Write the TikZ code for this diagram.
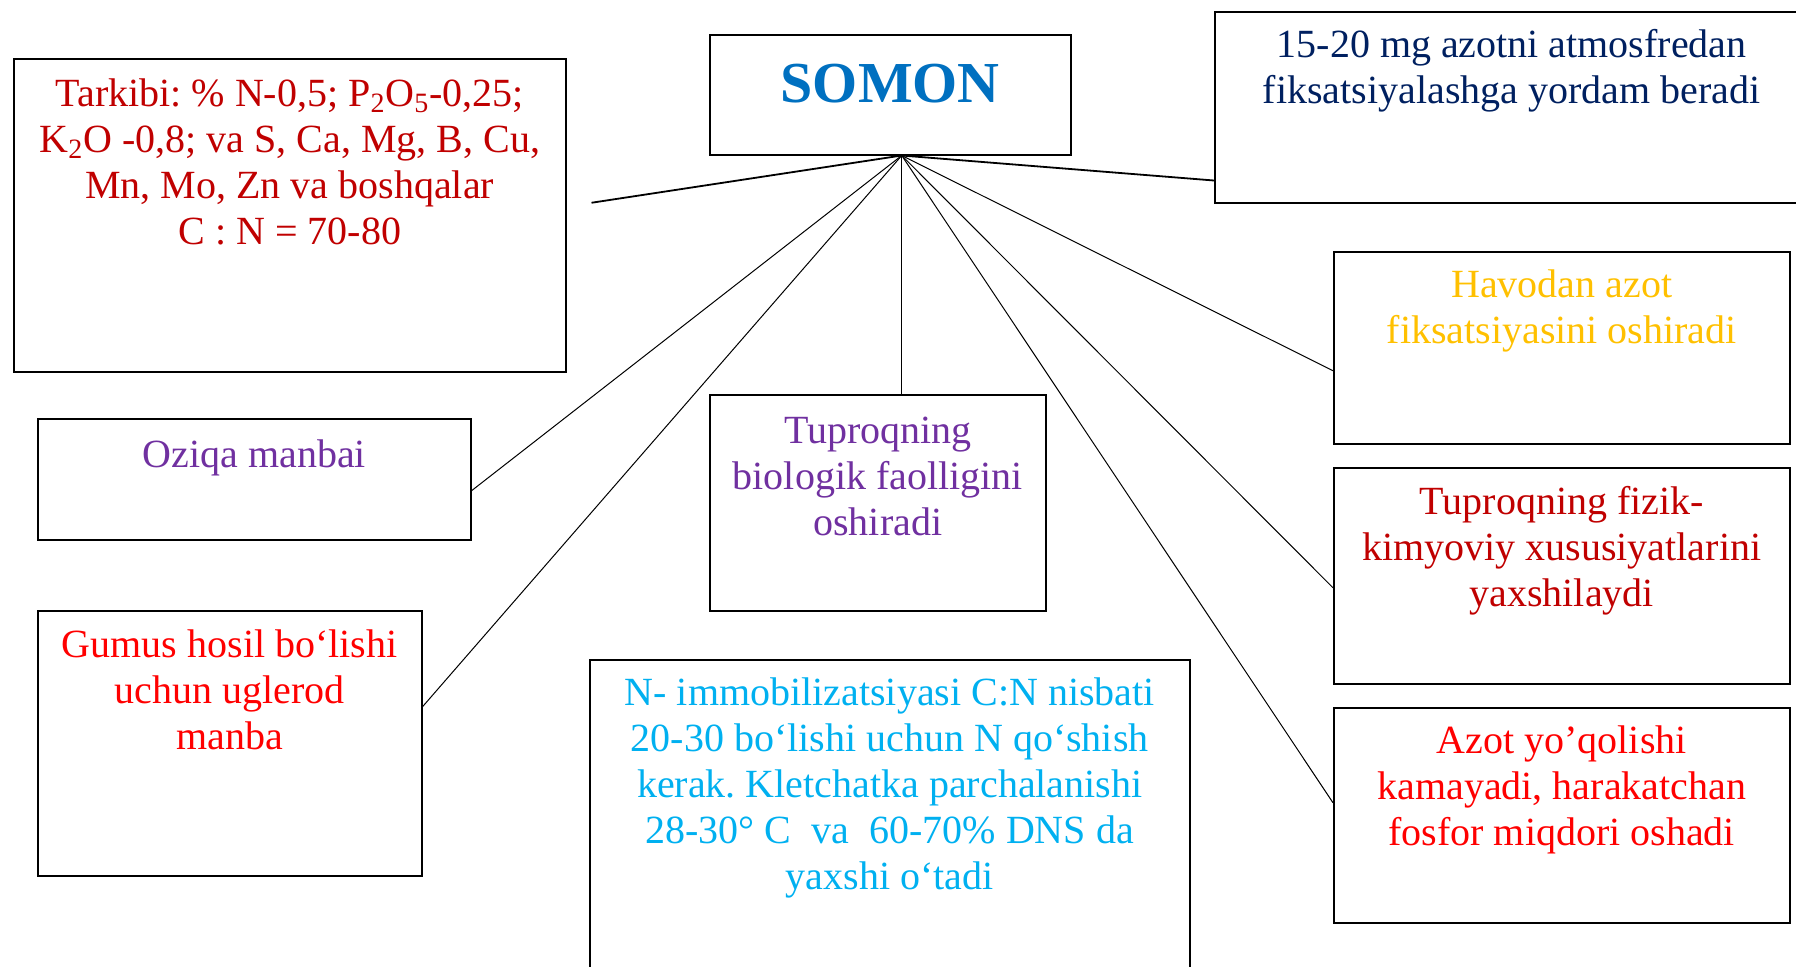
\documentclass[tikz,border=0pt]{standalone}
\usepackage{fontspec}
\setmainfont{Liberation Serif}
\usepackage{xcolor}
\usetikzlibrary{positioning}
\frenchspacing

\definecolor{somonblue}{RGB}{0,112,192}
\definecolor{darkred}{RGB}{192,0,0}
\definecolor{navy}{RGB}{0,32,96}
\definecolor{gold}{RGB}{255,192,0}
\definecolor{purple}{RGB}{112,48,160}
\definecolor{skyblue}{RGB}{0,176,240}

\newcommand{\txtlines}[1]{\begin{tabular}[t]{@{}c@{}}#1\end{tabular}}

\begin{document}
\begin{tikzpicture}[x=0.5pt,y=-0.5pt,
  box/.style={draw, line width=0.75pt, anchor=north west, inner sep=0pt},
  txt/.style={anchor=base, inner sep=0pt, font=\fontsize{20}{23}\selectfont},
  link/.style={line width=0.5pt}]

\clip (0,0) rectangle (1796,966);

\node [box, minimum width=180.5pt, minimum height=60pt] (somon) at (709,34) {};
\node [box, minimum width=276pt, minimum height=156.5pt] (tarkib) at (13,58) {};
\node [box, minimum width=297pt, minimum height=95.5pt] (fiks) at (1214,11) {};
\node [box, minimum width=216.5pt, minimum height=60.5pt] (oziqa) at (37,418) {};
\node [box, minimum width=168pt, minimum height=108pt] (biolog) at (709,394) {};
\node [box, minimum width=192pt, minimum height=132.5pt] (gumus) at (37,610) {};
\node [box, minimum width=300pt, minimum height=180pt] (immob) at (589,659) {};
\node [box, minimum width=228pt, minimum height=96pt] (havo) at (1333,251) {};
\node [box, minimum width=228pt, minimum height=108pt] (fizik) at (1333,467) {};
\node [box, minimum width=228pt, minimum height=107.5pt] (azot) at (1333,707) {};

\node [txt, text=somonblue, font=\bfseries\fontsize{29}{33}\selectfont] (somontxt) at ([yshift=-34pt]somon.north) {SOMON};
\node [txt, text=darkred] (tarkibtxt) at ([yshift=-24pt]tarkib.north) {\txtlines{Tarkibi: \% N-0,5; P\textsubscript{2}O\textsubscript{5}-0,25;\\K\textsubscript{2}O -0,8; va S, Ca, Mg, B, Cu,\\Mn, Mo, Zn va boshqalar\\C : N = 70-80}};
\node [txt, text=navy] (fikstxt) at ([yshift=-23pt]fiks.north) {\txtlines{15-20 mg azotni atmosfredan\\fiksatsiyalashga yordam beradi}};
\node [txt, text=purple] (oziqatxt) at ([yshift=-24.5pt]oziqa.north) {Oziqa manbai};
\node [txt, text=purple] (biologtxt) at ([yshift=-24.5pt]biolog.north) {\txtlines{Tuproqning\\biologik faolligini\\oshiradi}};
\node [txt, text=red] (gumustxt) at ([yshift=-23.5pt]gumus.north) {\txtlines{Gumus hosil bo‘lishi\\uchun uglerod\\manba}};
\node [txt, text=skyblue] (immobtxt) at ([yshift=-23pt]immob.north) {\txtlines{N- immobilizatsiyasi C:N nisbati\\20-30 bo‘lishi uchun N qo‘shish\\kerak. Kletchatka parchalanishi\\28-30° C~ va~ 60-70\% DNS da\\yaxshi o‘tadi}};
\node [txt, text=gold] (havotxt) at ([yshift=-23pt]havo.north) {\txtlines{Havodan azot\\fiksatsiyasini oshiradi}};
\node [txt, text=darkred] (fiziktxt) at ([yshift=-23.5pt]fizik.north) {\txtlines{Tuproqning fizik-\\kimyoviy xususiyatlarini\\yaxshilaydi}};
\node [txt, text=red] (azottxt) at ([yshift=-23pt]azot.north) {\txtlines{Azot yo’qolishi\\kamayadi, harakatchan\\fosfor miqdori oshadi}};

\coordinate (hub) at ([xshift=5.75pt]somon.south);
\coordinate (tarkibend) at ([xshift=12.5pt,yshift=6.25pt]tarkib.east);

\draw [link, line width=0.9pt] (hub) -- (tarkibend);
\draw [link, line width=0.9pt] (hub) -- ([yshift=11.5pt]fiks.south west);
\draw [link] (hub) -- ([yshift=-5.75pt]oziqa.east);
\draw [link] (hub) -- ([yshift=18.25pt]gumus.east);
\draw [link] (hub) -- ([xshift=12pt]biolog.north);
\draw [link] (hub) -- ([yshift=-11.5pt]havo.west);
\draw [link] (hub) -- ([yshift=-6pt]fizik.west);
\draw [link] (hub) -- ([yshift=6.25pt]azot.west);

\end{tikzpicture}
\end{document}
